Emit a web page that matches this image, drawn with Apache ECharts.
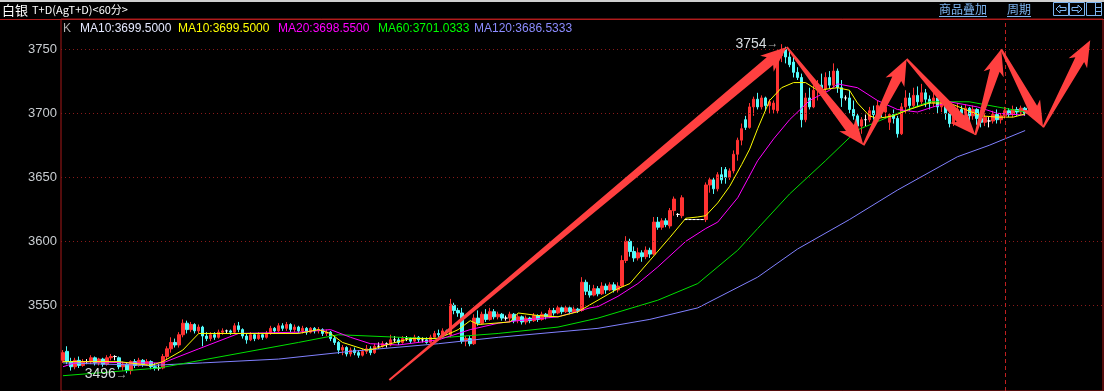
<!DOCTYPE html>
<html><head><meta charset="utf-8">
<script src="https://cdn.jsdelivr.net/npm/echarts@6/dist/echarts.min.js"></script>
<style>html,body{margin:0;padding:0;background:#000;overflow:hidden}#c{width:1104px;height:391px}</style>
</head><body><div id="c"></div>
<script>
// [open, close, low, high] per 60-minute bar
const kData = [
[3507,3513,3505,3515],[3514,3506,3504,3518],[3506,3502,3499,3509],[3502,3507,3500,3509],[3507,3503,3501,3510],
[3503,3506,3502,3508],[3506,3506,3504,3508],[3506,3509,3504,3511],[3509,3505,3503,3510],[3505,3508,3503,3509],
[3508,3504,3502,3509],[3504,3509,3503,3511],[3509,3510,3507,3512],[3510,3510,3507,3511],[3509,3502,3500,3510],
[3502,3504,3499,3506],[3504,3499,3497,3505],[3499,3506,3496,3507],[3506,3503,3501,3508],[3503,3507,3502,3509],
[3507,3504,3502,3508],[3504,3506,3503,3508],[3506,3502,3500,3507],[3502,3501,3499,3505],[3501,3501,3499,3504],
[3501,3510,3500,3512],[3510,3516,3508,3518],[3516,3521,3513,3525],[3521,3519,3517,3524],[3519,3527,3517,3529],
[3527,3536,3525,3539],[3536,3531,3528,3538],[3531,3535,3529,3537],[3535,3530,3528,3536],[3530,3533,3528,3535],
[3533,3526,3518,3534],[3526,3524,3522,3529],[3524,3527,3522,3529],[3527,3525,3523,3529],[3525,3529,3524,3531],
[3529,3530,3527,3532],[3530,3530,3528,3531],[3530,3529,3527,3531],[3529,3534,3528,3536],[3534,3531,3529,3537],
[3531,3526,3524,3532],[3526,3523,3520,3528],[3523,3527,3522,3529],[3527,3524,3522,3528],[3524,3527,3523,3529],
[3527,3525,3523,3528],[3525,3528,3524,3530],[3528,3532,3527,3534],[3532,3530,3528,3533],[3530,3534,3529,3536],
[3534,3532,3530,3536],[3532,3535,3530,3537],[3535,3531,3529,3536],[3531,3533,3529,3535],[3533,3530,3528,3534],
[3530,3532,3528,3534],[3532,3529,3527,3533],[3529,3532,3528,3533],[3532,3530,3528,3533],[3530,3531,3528,3533],
[3531,3528,3526,3532],[3528,3529,3526,3531],[3529,3524,3522,3530],[3524,3521,3519,3526],[3521,3515,3512,3522],
[3515,3517,3511,3519],[3517,3512,3510,3518],[3512,3515,3510,3517],[3515,3513,3511,3517],[3513,3511,3509,3515],
[3511,3514,3510,3516],[3514,3516,3512,3519],[3516,3513,3511,3518],[3513,3518,3512,3520],[3518,3518,3516,3521],
[3518,3520,3517,3522],[3520,3520,3517,3521],[3519,3523,3518,3527],[3523,3523,3521,3526],[3523,3521,3519,3525],
[3521,3524,3520,3526],[3524,3524,3522,3526],[3524,3522,3520,3525],[3522,3525,3521,3527],[3525,3523,3521,3526],
[3523,3523,3521,3525],[3523,3521,3520,3525],[3521,3525,3520,3527],[3525,3528,3524,3530],[3528,3527,3525,3531],
[3527,3530,3526,3532],[3530,3529,3527,3531],[3527,3551,3525,3555],[3550,3546,3543,3552],[3546,3544,3541,3548],
[3544,3522,3520,3548],[3522,3524,3518,3526],[3524,3520,3518,3526],[3520,3540,3519,3543],[3540,3536,3534,3546],
[3536,3543,3535,3545],[3543,3539,3537,3547],[3539,3545,3538,3548],[3545,3541,3539,3547],[3541,3543,3539,3545],
[3543,3540,3538,3544],[3540,3540,3538,3542],[3540,3543,3537,3545],[3543,3538,3536,3544],[3538,3541,3536,3543],
[3541,3537,3535,3542],[3537,3540,3535,3542],[3540,3538,3536,3541],[3538,3542,3537,3544],[3542,3539,3537,3543],
[3539,3543,3538,3545],[3543,3541,3539,3544],[3541,3546,3540,3548],[3546,3544,3542,3548],[3544,3548,3543,3550],
[3548,3545,3543,3549],[3545,3548,3544,3550],[3548,3545,3543,3549],[3545,3547,3544,3549],[3547,3546,3544,3548],
[3546,3568,3545,3572],[3568,3561,3558,3570],[3561,3558,3556,3566],[3558,3563,3557,3566],[3563,3559,3557,3565],
[3559,3565,3558,3568],[3565,3562,3559,3567],[3562,3566,3561,3568],[3566,3562,3560,3568],[3562,3565,3560,3568],
[3565,3585,3564,3589],[3585,3600,3583,3604],[3600,3592,3588,3602],[3592,3587,3584,3596],[3587,3591,3585,3595],
[3591,3588,3584,3593],[3588,3593,3586,3596],[3593,3590,3587,3595],[3590,3615,3589,3619],[3615,3611,3609,3619],
[3611,3616,3609,3618],[3616,3613,3611,3618],[3612,3624,3610,3626],[3624,3633,3620,3635],[3621,3621,3619,3622],
[3620,3634,3618,3636],[3617,3617,3617,3617],[3617,3617,3617,3617],[3617,3617,3617,3617],[3617,3617,3617,3617],
[3617,3617,3617,3617],[3617,3644,3615,3646],[3644,3648,3638,3650],[3648,3641,3637,3650],[3641,3652,3639,3654],
[3652,3648,3645,3658],[3656,3650,3645,3658],[3650,3655,3648,3657],[3655,3668,3653,3671],[3668,3679,3663,3681],
[3679,3688,3675,3692],[3695,3689,3687,3698],[3689,3705,3688,3708],[3705,3711,3698,3713],[3711,3705,3703,3716],
[3705,3712,3703,3714],[3712,3706,3702,3713],[3706,3709,3700,3711],[3703,3708,3700,3710],[3702,3745,3700,3749],
[3745,3750,3740,3754],[3750,3744,3739,3752],[3744,3738,3736,3749],[3740,3732,3728,3744],[3732,3728,3726,3736],
[3728,3695,3689,3731],[3695,3712,3693,3716],[3712,3705,3703,3720],[3705,3718,3704,3722],[3718,3722,3710,3726],
[3722,3719,3718,3731],[3719,3728,3716,3732],[3728,3722,3719,3733],[3722,3733,3720,3739],[3733,3720,3716,3735],
[3720,3712,3705,3726],[3712,3712,3710,3714],[3712,3703,3700,3718],[3703,3698,3695,3710],[3698,3690,3686,3700],
[3690,3695,3684,3697],[3695,3695,3690,3699],[3695,3702,3693,3705],[3702,3699,3695,3706],[3699,3706,3697,3710],
[3706,3701,3697,3708],[3701,3705,3696,3709],[3693,3699,3687,3700],[3699,3696,3692,3703],[3696,3684,3681,3698],
[3684,3705,3683,3708],[3705,3712,3700,3718],[3712,3706,3702,3716],[3706,3714,3704,3720],[3714,3709,3705,3721],
[3709,3716,3706,3723],[3716,3711,3705,3719],[3711,3708,3703,3714],[3708,3712,3705,3716],[3712,3705,3700,3714],
[3705,3709,3701,3712],[3709,3700,3695,3711],[3700,3692,3689,3703],[3692,3698,3690,3702],[3698,3703,3696,3708],
[3703,3700,3697,3706],[3700,3704,3698,3707],[3704,3698,3693,3705],[3698,3703,3695,3706],[3703,3696,3691,3704],
[3696,3693,3689,3699],[3693,3697,3690,3700],[3694,3694,3689,3697],[3694,3699,3692,3702],[3699,3695,3692,3703],
[3695,3698,3692,3700],[3698,3702,3696,3705],[3702,3699,3697,3704],[3699,3703,3697,3706],[3703,3701,3698,3705],
[3701,3704,3699,3706],[3704,3700,3698,3705]
];
// moving-average curves: [bar index, value]
const ma10 = [[0,3506],[14,3506],[22,3503],[25,3506],[30,3515],[34,3528],[59,3528],[64,3531],[67,3528],[70,3521],[76,3515],[78,3516],[82,3520],[87,3524],[94,3524],[99,3531],[102,3538],[104,3535],[112,3537],[114,3544],[119,3542],[124,3541],[129,3545],[134,3554],[139,3563],[142,3567],[147,3585],[152,3603],[156,3618],[159,3619],[161,3620],[164,3630],[167,3643],[170,3660],[172,3672],[174,3688],[177,3710],[180,3720],[183,3724],[186,3724],[189,3718],[194,3720],[197,3718],[199,3708],[202,3698],[204,3696],[208,3698],[212,3703],[217,3708],[222,3708],[226,3703],[230,3698],[234,3697],[238,3697],[241,3699.5]];
const ma20 = [[0,3502],[4,3506],[17,3505],[25,3505],[34,3516],[44,3528],[59,3529],[67,3531],[72,3525],[77,3520],[84,3519],[94,3523],[102,3531],[109,3536],[114,3538],[124,3541],[132,3548],[134,3549],[139,3557],[144,3567],[149,3580],[156,3600],[161,3610],[164,3615],[169,3634],[174,3663],[178,3680],[182,3695],[187,3710],[192,3718],[194,3723],[199,3720],[204,3710],[209,3703],[214,3701],[222,3709],[229,3705],[234,3700],[241,3698.55]];
const ma60 = [[0,3495],[24,3501],[31,3505],[59,3521],[69,3527],[92,3524],[109,3528],[124,3533],[134,3540],[149,3554],[159,3567],[169,3593],[174,3610],[182,3637],[191,3663],[199,3687],[209,3700],[217,3709],[227,3709],[234,3705],[241,3701.03]];
const ma120 = [[0,3505],[22,3503],[35,3505],[54,3508],[72,3514],[94,3520],[109,3525],[134,3532],[147,3539],[159,3548],[174,3572],[184,3594],[197,3617],[209,3640],[224,3666],[232,3675],[241,3686.53]];
// hand-drawn arrows: [fromBar, fromPrice, toBar, toPrice]
const arrows = [[81.75,3491.6,181.3,3751.8],[181.3,3751.8,200.5,3675],[200.5,3675,211.3,3742.4],[211.3,3742.4,228.5,3683],[228.5,3683,235,3750],[235,3750,245.5,3689],[245.5,3689,257.3,3757]];
const yTicks = [3550,3600,3650,3700,3750];
const extremes = [[180,3754,'3754'],[17,3496,'3496']];
const legendItems = [['K','#b0b0b0'],['MA10:3699.5000','#e4e8ff'],['MA10:3699.5000','#ffff00'],['MA20:3698.5500','#ff00ff'],['MA60:3701.0333','#00ff00'],['MA120:3686.5333','#8c8cff']];
const legendX = [63,80,178,278,378,474];
const crossBar = 236;
const totalSlots = 261;
const categories = Array.from({length: totalSlots}, (_, i) => String(i));

const chart = echarts.init(document.getElementById('c'));
const G = {left: 61, top: 19, right: 1, bottom: 0};
const yMin = 3483.05, yMax = 3773.67;

function maSeries(data, color, extra) {
  return Object.assign({type: 'line', data: data, showSymbol: false, symbol: 'none', z: 4, silent: true,
    lineStyle: {color: color, width: 1}, itemStyle: {color: color}}, extra || {});
}

const graphic = [
  {type: 'rect', shape: {x: 0, y: 0, width: 1104, height: 2}, style: {fill: '#cfcfcf'}},
  {type: 'line', shape: {x1: 0, y1: 19.5, x2: 1104, y2: 19.5}, style: {stroke: '#b01c1c', lineWidth: 1}},
  {type: 'text', x: 2, y: 10, style: {text: '白银', fill: '#ffffff', font: '13px "Noto Sans CJK SC"', verticalAlign: 'middle'}},
  {type: 'text', x: 32, y: 10, style: {text: 'T+D(AgT+D)<60分>', fill: '#ffffff', font: '11px "Noto Sans CJK SC"', verticalAlign: 'middle'}},
  {type: 'text', x: 939, y: 9, style: {text: '商品叠加', fill: '#7cb4f0', font: '12px "Noto Sans CJK SC"', verticalAlign: 'middle'}},
  {type: 'line', shape: {x1: 939, y1: 16.5, x2: 987, y2: 16.5}, style: {stroke: '#7cb4f0', lineWidth: 1}},
  {type: 'text', x: 1007, y: 9, style: {text: '周期', fill: '#7cb4f0', font: '12px "Noto Sans CJK SC"', verticalAlign: 'middle'}},
  {type: 'line', shape: {x1: 1007, y1: 16.5, x2: 1031, y2: 16.5}, style: {stroke: '#7cb4f0', lineWidth: 1}},
  {type: 'rect', shape: {x: 1053.5, y: 2.5, width: 15, height: 13}, style: {fill: 'none', stroke: '#7cb4f0', lineWidth: 1}},
  {type: 'rect', shape: {x: 1069.5, y: 2.5, width: 15, height: 13}, style: {fill: 'none', stroke: '#7cb4f0', lineWidth: 1}},
  {type: 'rect', shape: {x: 1086.5, y: 2.5, width: 15, height: 13}, style: {fill: 'none', stroke: '#7cb4f0', lineWidth: 1}},
  {type: 'polygon', shape: {points: [[1056,9],[1060,5],[1060,7.5],[1066,7.5],[1066,10.5],[1060,10.5],[1060,13]]}, style: {fill: 'none', stroke: '#7cb4f0', lineWidth: 1}},
  {type: 'polygon', shape: {points: [[1082,9],[1078,5],[1078,7.5],[1072,7.5],[1072,10.5],[1078,10.5],[1078,13]]}, style: {fill: 'none', stroke: '#7cb4f0', lineWidth: 1}},
  {type: 'line', shape: {x1: 1095.5, y1: 3, x2: 1095.5, y2: 15}, style: {stroke: '#7cb4f0', lineWidth: 1}},
  {type: 'line', shape: {x1: 1096, y1: 7.5, x2: 1101, y2: 7.5}, style: {stroke: '#7cb4f0', lineWidth: 1}},
  {type: 'line', shape: {x1: 1096, y1: 11.5, x2: 1101, y2: 11.5}, style: {stroke: '#7cb4f0', lineWidth: 1}}
];
legendItems.forEach((it, k) => {
  graphic.push({type: 'text', x: legendX[k], y: 29, z: 10,
    style: {text: it[0], fill: it[1], font: '12px "Liberation Sans"', verticalAlign: 'middle'}});
});

chart.setOption({
  animation: false,
  backgroundColor: '#000000',
  grid: Object.assign({show: true, borderColor: '#a81818', borderWidth: 1, backgroundColor: 'transparent'}, G),
  xAxis: [
    {type: 'category', data: categories, boundaryGap: true, axisLine: {show: false}, axisTick: {show: false}, axisLabel: {show: false}, splitLine: {show: false}},
    {type: 'value', min: -0.5, max: totalSlots - 0.5, show: false}
  ],
  yAxis: {type: 'value', min: yMin, max: yMax, axisLine: {show: false}, axisTick: {show: false}, splitLine: {show: false},
    axisLabel: {customValues: yTicks, formatter: v => String(Math.round(v)), color: '#c8ccd0', fontSize: 13, fontFamily: 'Liberation Sans', margin: 4}},
  graphic: graphic,
  series: [
    {type: 'candlestick', data: kData, barWidth: 3, z: 2, silent: true,
      itemStyle: {color: '#ff3232', color0: '#54fcfc', borderColor: '#ff3232', borderColor0: '#54fcfc', borderColorDoji: '#ffffff', borderWidth: 1},
      markLine: {silent: true, symbol: ['none', 'none'], label: {show: false}, animation: false,
        lineStyle: {color: '#8a1a1a', type: [1, 3], width: 1},
        data: yTicks.map(v => ({yAxis: v}))},
      markPoint: {silent: true, symbol: 'circle', symbolSize: 0, animation: false,
        data: extremes.map(e => ({coord: [e[0], e[1]], value: e[2],
          label: {show: true, position: 'left', distance: 3, formatter: '{a|' + e[2] + '}{b|→}',
            rich: {a: {color: '#d8dce0', fontSize: 14, fontFamily: 'Liberation Sans'}, b: {color: '#a8a8a8', fontSize: 12}}}}))}
    },
    maSeries(ma120, '#8080ff'),
    maSeries(ma60, '#00e000'),
    maSeries(ma20, '#ff00ff'),
    maSeries(ma10, '#ffff00', {markLine: {silent: true, symbol: ['none', 'none'], label: {show: false}, animation: false,
      lineStyle: {color: '#c02020', type: [4, 3], width: 1}, data: [{xAxis: String(crossBar)}]}}),
    {type: 'custom', xAxisIndex: 1, z: 8, silent: true, clip: false, data: arrows,
      renderItem: function (params, api) {
        const p0 = api.coord([api.value(0), api.value(1)]);
        const p1 = api.coord([api.value(2), api.value(3)]);
        const dx = p1[0] - p0[0], dy = p1[1] - p0[1];
        const L = Math.hypot(dx, dy);
        const ux = dx / L, uy = dy / L, nx = -uy, ny = ux;
        const headLen = 26, headW = 10.5, bodyW = 5, tailW = 1, notch = 4;
        const bx = p1[0] - ux * headLen, by = p1[1] - uy * headLen;
        const ix = p1[0] - ux * (headLen - notch), iy = p1[1] - uy * (headLen - notch);
        const pts = [
          [p0[0] + nx * tailW, p0[1] + ny * tailW],
          [ix + nx * bodyW, iy + ny * bodyW],
          [bx + nx * headW, by + ny * headW],
          [p1[0], p1[1]],
          [bx - nx * headW, by - ny * headW],
          [ix - nx * bodyW, iy - ny * bodyW],
          [p0[0] - nx * tailW, p0[1] - ny * tailW]
        ];
        return {type: 'polygon', shape: {points: pts}, style: {fill: '#ff4040'}};
      }
    }
  ]
});
</script>
</body></html>
